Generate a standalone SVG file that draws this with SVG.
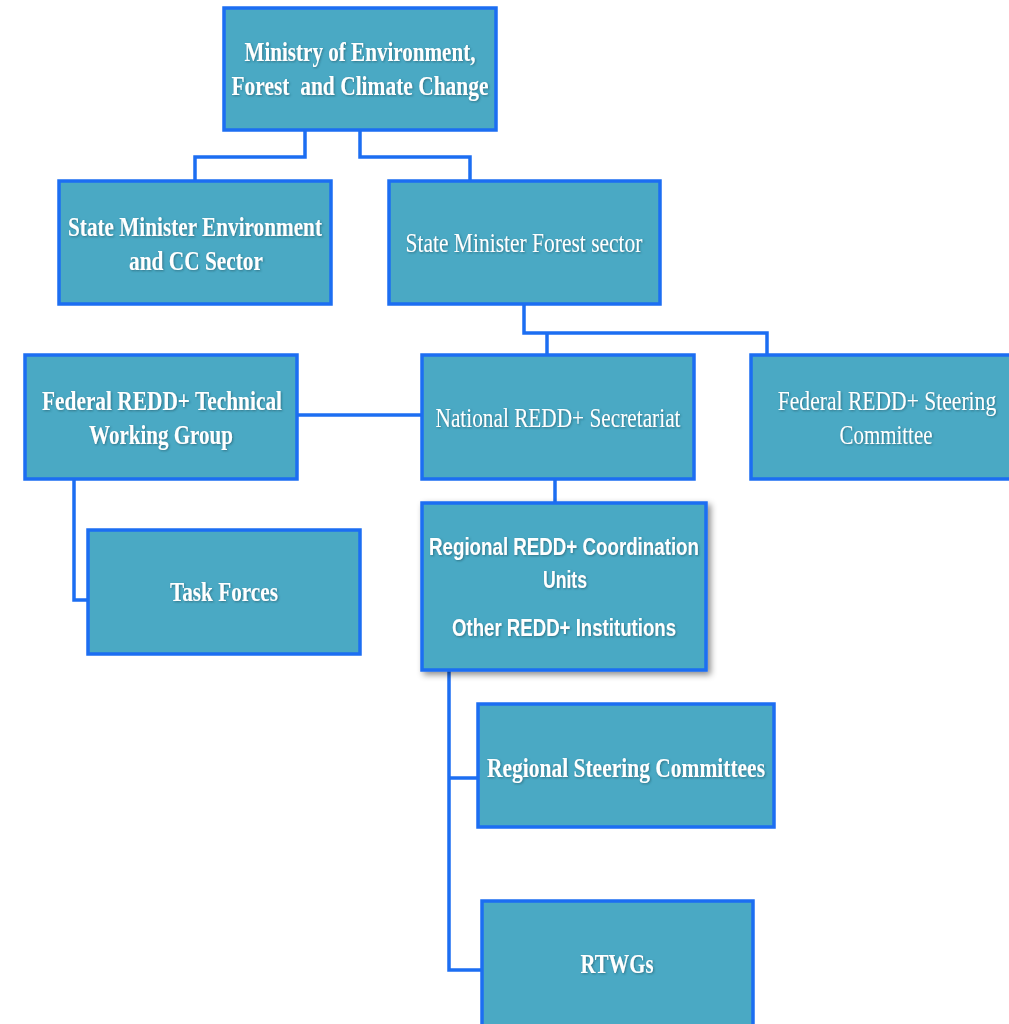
<svg xmlns="http://www.w3.org/2000/svg" width="1009" height="1024" viewBox="0 0 1009 1024">
<defs>
<filter id="sh" x="-10%" y="-10%" width="130%" height="130%">
<feDropShadow dx="3" dy="3" stdDeviation="3" flood-color="#000" flood-opacity="0.45"/>
</filter>
<filter id="ts" x="-5%" y="-20%" width="110%" height="150%">
<feDropShadow dx="1" dy="1" stdDeviation="1" flood-color="#1d4f5e" flood-opacity="0.6"/>
</filter>
</defs>
<style>
.box{fill:#4aa9c4;stroke:#1c6ef2;stroke-width:3.5}
.con{fill:none;stroke:#1c6ef2;stroke-width:3.5}
.t{fill:#fff;font-family:"Liberation Serif","Times New Roman",serif;font-size:27px;text-anchor:middle}
.b{font-weight:bold}
.s{font-family:"Liberation Sans",Arial,sans-serif;font-weight:bold;font-size:23px}
</style>
<rect width="1009" height="1024" fill="#fff"/>
<g id="connectors">
<polyline class="con" points="305,130 305,157 195,157 195,181"/>
<polyline class="con" points="360,130 360,157 470,157 470,181"/>
<polyline class="con" points="524,304 524,333 767,333 767,355"/>
<polyline class="con" points="547,333 547,355"/>
<polyline class="con" points="297,415 422,415"/>
<polyline class="con" points="555,479 555,503"/>
<polyline class="con" points="74,479 74,600 88,600"/>
<polyline class="con" points="449,670 449,970 482,970"/>
<polyline class="con" points="449,778 478,778"/>
</g>
<g id="ministry">
<rect class="box" x="224" y="8" width="272" height="122"/>
<g filter="url(#ts)">
<text class="t b" x="360" y="61" textLength="231" lengthAdjust="spacingAndGlyphs">Ministry of Environment,</text>
<text class="t b" x="360" y="95" textLength="257" lengthAdjust="spacingAndGlyphs">Forest&#160; and Climate Change</text>
</g>
</g>
<g id="state-env">
<rect class="box" x="59" y="181" width="272" height="123"/>
<g filter="url(#ts)">
<text class="t b" x="195" y="236" textLength="254" lengthAdjust="spacingAndGlyphs">State Minister Environment</text>
<text class="t b" x="196" y="270" textLength="134" lengthAdjust="spacingAndGlyphs">and CC Sector</text>
</g>
</g>
<g id="state-forest">
<rect class="box" x="389" y="181" width="271" height="123"/>
<g filter="url(#ts)">
<text class="t" x="524" y="252" textLength="237" lengthAdjust="spacingAndGlyphs">State Minister Forest sector</text>
</g>
</g>
<g id="federal-twg">
<rect class="box" x="25" y="355" width="272" height="124"/>
<g filter="url(#ts)">
<text class="t b" x="162" y="410" textLength="240" lengthAdjust="spacingAndGlyphs">Federal REDD+ Technical</text>
<text class="t b" x="161" y="444" textLength="144" lengthAdjust="spacingAndGlyphs">Working Group</text>
</g>
</g>
<g id="national-secretariat">
<rect class="box" x="422" y="355" width="272" height="124"/>
<g filter="url(#ts)">
<text class="t" x="558" y="427" textLength="245" lengthAdjust="spacingAndGlyphs">National REDD+ Secretariat</text>
</g>
</g>
<g id="federal-steering">
<rect class="box" x="751" y="355" width="262" height="124"/>
<g filter="url(#ts)">
<text class="t" transform="translate(887,410) scale(0.80,1)" x="0" y="0">Federal REDD+ Steering</text>
<text class="t" x="886" y="444" textLength="93" lengthAdjust="spacingAndGlyphs">Committee</text>
</g>
</g>
<g id="regional-coordination">
<rect class="box" x="422" y="503" width="284" height="167" filter="url(#sh)"/>
<g filter="url(#ts)">
<text class="t s" x="564" y="555" textLength="270" lengthAdjust="spacingAndGlyphs">Regional REDD+ Coordination</text>
<text class="t s" x="565" y="588" textLength="44" lengthAdjust="spacingAndGlyphs">Units</text>
<text class="t s" x="564" y="636" textLength="224" lengthAdjust="spacingAndGlyphs">Other REDD+ Institutions</text>
</g>
</g>
<g id="task-forces">
<rect class="box" x="88" y="530" width="272" height="124"/>
<g filter="url(#ts)">
<text class="t b" x="224" y="601" textLength="108" lengthAdjust="spacingAndGlyphs">Task Forces</text>
</g>
</g>
<g id="regional-steering">
<rect class="box" x="478" y="704" width="296" height="123"/>
<g filter="url(#ts)">
<text class="t b" x="626" y="777" textLength="278" lengthAdjust="spacingAndGlyphs">Regional Steering Committees</text>
</g>
</g>
<g id="rtwgs">
<rect class="box" x="482" y="901" width="271" height="130"/>
<g filter="url(#ts)">
<text class="t b" x="617" y="973" textLength="73" lengthAdjust="spacingAndGlyphs">RTWGs</text>
</g>
</g>
</svg>
